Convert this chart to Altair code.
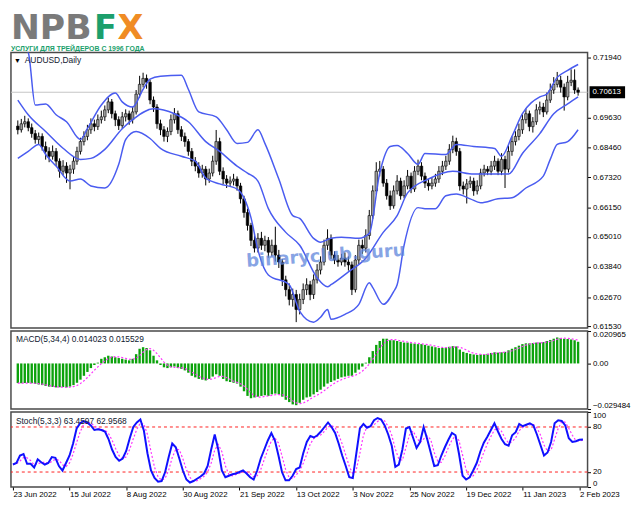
import altair as alt
import pandas as pd

# ---------------- data ----------------
date_labels = ["23 Jun 2022", "15 Jul 2022", "8 Aug 2022", "30 Aug 2022", "21 Sep 2022",
               "13 Oct 2022", "3 Nov 2022", "25 Nov 2022", "19 Dec 2022", "11 Jan 2023", "2 Feb 2023"]

opens = [
    0.6930, 0.6916, 0.6939, 0.6947, 0.6924, 0.6901, 0.6878, 0.6890, 0.6851, 0.6832,
    0.6813, 0.6832, 0.6794, 0.6755, 0.6775, 0.6748, 0.6763, 0.6794, 0.6832, 0.6870,
    0.6890, 0.6916, 0.6939, 0.6928, 0.6955, 0.6966, 0.6993, 0.7024, 0.6978, 0.6955,
    0.6932, 0.6966, 0.6978, 0.6955, 0.6985, 0.7054, 0.7092, 0.7115, 0.7100, 0.7031,
    0.7004, 0.6939, 0.6916, 0.6890, 0.6909, 0.6955, 0.6978, 0.6916, 0.6890, 0.6870,
    0.6832, 0.6794, 0.6775, 0.6748, 0.6763, 0.6725, 0.6748, 0.6794, 0.6870, 0.6755,
    0.6725, 0.6709, 0.6717, 0.6725, 0.6698, 0.6648, 0.6595, 0.6545, 0.6487, 0.6457,
    0.6495, 0.6468, 0.6487, 0.6441, 0.6468, 0.6430, 0.6403, 0.6334, 0.6296, 0.6258,
    0.6277, 0.6219, 0.6258, 0.6296, 0.6315, 0.6277, 0.6334, 0.6372, 0.6403, 0.6468,
    0.6495, 0.6430, 0.6411, 0.6403, 0.6418, 0.6403, 0.6392, 0.6296, 0.6411, 0.6468,
    0.6457, 0.6506, 0.6583, 0.6679, 0.6755, 0.6763, 0.6709, 0.6660, 0.6621, 0.6679,
    0.6717, 0.6660, 0.6698, 0.6736, 0.6686, 0.6755, 0.6775, 0.6736, 0.6709, 0.6698,
    0.6709, 0.6725, 0.6755, 0.6775, 0.6794, 0.6840, 0.6870, 0.6832, 0.6698, 0.6686,
    0.6706, 0.6717, 0.6679, 0.6698, 0.6748, 0.6763, 0.6755, 0.6775, 0.6794, 0.6755,
    0.6801, 0.6763, 0.6832, 0.6870, 0.6890, 0.6916, 0.6955, 0.6978, 0.6928, 0.6947,
    0.6993, 0.7004, 0.6985, 0.7031, 0.7070, 0.7092, 0.7108, 0.7081, 0.7043, 0.7100,
    0.7108, 0.7070]

highs = [
    0.6952, 0.6958, 0.6970, 0.6960, 0.6940, 0.6915, 0.6905, 0.6902, 0.6870, 0.6848,
    0.6855, 0.6845, 0.6805, 0.6798, 0.6790, 0.6780, 0.6810, 0.6850, 0.6885, 0.6910,
    0.6935, 0.6960, 0.6955, 0.6975, 0.6990, 0.7010, 0.7040, 0.7035, 0.6990, 0.6968,
    0.6985, 0.6995, 0.6990, 0.7005, 0.7070, 0.7125, 0.7137, 0.7130, 0.7110, 0.7045,
    0.7015, 0.6955, 0.6930, 0.6925, 0.6975, 0.7000, 0.6990, 0.6930, 0.6905, 0.6880,
    0.6845, 0.6810, 0.6790, 0.6780, 0.6775, 0.6765, 0.6815, 0.6915, 0.6885, 0.6770,
    0.6740, 0.6735, 0.6745, 0.6735, 0.6710, 0.6660, 0.6610, 0.6555, 0.6510, 0.6515,
    0.6520, 0.6505, 0.6500, 0.6490, 0.6540, 0.6450, 0.6415, 0.6350, 0.6320, 0.6300,
    0.6295, 0.6280, 0.6320, 0.6340, 0.6330, 0.6355, 0.6395, 0.6425, 0.6490, 0.6530,
    0.6510, 0.6445, 0.6430, 0.6435, 0.6440, 0.6425, 0.6405, 0.6430, 0.6490, 0.6490,
    0.6530, 0.6605, 0.6700, 0.6790, 0.6795, 0.6775, 0.6725, 0.6680, 0.6700, 0.6740,
    0.6730, 0.6720, 0.6760, 0.6750, 0.6775, 0.6800, 0.6790, 0.6750, 0.6725, 0.6730,
    0.6745, 0.6775, 0.6795, 0.6815, 0.6860, 0.6893, 0.6885, 0.6845, 0.6715, 0.6725,
    0.6735, 0.6730, 0.6720, 0.6765, 0.6780, 0.6775, 0.6795, 0.6815, 0.6805, 0.6825,
    0.6815, 0.6855, 0.6890, 0.6910, 0.6940, 0.6975, 0.6998, 0.6990, 0.6965, 0.7015,
    0.7025, 0.7020, 0.7060, 0.7095, 0.7120, 0.7140, 0.7125, 0.7095, 0.7125, 0.7150,
    0.7150, 0.7080]

lows = [
    0.6898, 0.6905, 0.6925, 0.6910, 0.6885, 0.6862, 0.6860, 0.6835, 0.6800, 0.6790,
    0.6800, 0.6775, 0.6730, 0.6740, 0.6710, 0.6685, 0.6745, 0.6780, 0.6820, 0.6855,
    0.6875, 0.6900, 0.6910, 0.6915, 0.6940, 0.6950, 0.6980, 0.6960, 0.6930, 0.6915,
    0.6920, 0.6948, 0.6935, 0.6940, 0.6975, 0.7040, 0.7080, 0.7075, 0.7015, 0.6985,
    0.6920, 0.6895, 0.6870, 0.6868, 0.6895, 0.6940, 0.6900, 0.6872, 0.6850, 0.6815,
    0.6775, 0.6755, 0.6730, 0.6730, 0.6700, 0.6710, 0.6735, 0.6780, 0.6740, 0.6705,
    0.6690, 0.6695, 0.6700, 0.6680, 0.6630, 0.6575, 0.6525, 0.6465, 0.6440, 0.6440,
    0.6450, 0.6445, 0.6420, 0.6425, 0.6405, 0.6380, 0.6310, 0.6270, 0.6235, 0.6230,
    0.6170, 0.6200, 0.6240, 0.6275, 0.6255, 0.6260, 0.6320, 0.6355, 0.6390, 0.6450,
    0.6415, 0.6395, 0.6385, 0.6390, 0.6385, 0.6370, 0.6275, 0.6285, 0.6395, 0.6435,
    0.6440, 0.6490, 0.6570, 0.6665, 0.6735, 0.6695, 0.6645, 0.6605, 0.6610, 0.6665,
    0.6645, 0.6650, 0.6685, 0.6670, 0.6675, 0.6740, 0.6720, 0.6690, 0.6680, 0.6685,
    0.6695, 0.6710, 0.6740, 0.6760, 0.6780, 0.6825, 0.6815, 0.6680, 0.6665, 0.6630,
    0.6690, 0.6660, 0.6665, 0.6685, 0.6735, 0.6740, 0.6740, 0.6760, 0.6740, 0.6740,
    0.6690, 0.6750, 0.6815, 0.6855, 0.6875, 0.6900, 0.6940, 0.6910, 0.6905, 0.6935,
    0.6975, 0.6965, 0.6975, 0.7020, 0.7055, 0.7080, 0.7060, 0.6990, 0.7030, 0.7085,
    0.7055, 0.7048]

closes = [
    0.6916, 0.6939, 0.6947, 0.6924, 0.6901, 0.6878, 0.6890, 0.6851, 0.6832, 0.6813,
    0.6832, 0.6794, 0.6755, 0.6775, 0.6748, 0.6763, 0.6794, 0.6832, 0.6870, 0.6890,
    0.6916, 0.6939, 0.6928, 0.6955, 0.6966, 0.6993, 0.7024, 0.6978, 0.6955, 0.6932,
    0.6966, 0.6978, 0.6955, 0.6985, 0.7054, 0.7092, 0.7115, 0.7100, 0.7031, 0.7004,
    0.6939, 0.6916, 0.6890, 0.6909, 0.6955, 0.6978, 0.6916, 0.6890, 0.6870, 0.6832,
    0.6794, 0.6775, 0.6748, 0.6763, 0.6725, 0.6748, 0.6794, 0.6870, 0.6755, 0.6725,
    0.6709, 0.6717, 0.6725, 0.6698, 0.6648, 0.6595, 0.6545, 0.6487, 0.6457, 0.6495,
    0.6468, 0.6487, 0.6441, 0.6468, 0.6430, 0.6403, 0.6334, 0.6296, 0.6258, 0.6277,
    0.6219, 0.6258, 0.6296, 0.6315, 0.6277, 0.6334, 0.6372, 0.6403, 0.6468, 0.6495,
    0.6430, 0.6411, 0.6403, 0.6418, 0.6403, 0.6392, 0.6296, 0.6411, 0.6468, 0.6457,
    0.6506, 0.6583, 0.6679, 0.6755, 0.6763, 0.6709, 0.6660, 0.6621, 0.6679, 0.6717,
    0.6660, 0.6698, 0.6736, 0.6686, 0.6755, 0.6775, 0.6736, 0.6709, 0.6698, 0.6709,
    0.6725, 0.6755, 0.6775, 0.6794, 0.6840, 0.6870, 0.6832, 0.6698, 0.6686, 0.6706,
    0.6717, 0.6679, 0.6698, 0.6748, 0.6763, 0.6755, 0.6775, 0.6794, 0.6755, 0.6801,
    0.6763, 0.6832, 0.6870, 0.6890, 0.6916, 0.6955, 0.6978, 0.6928, 0.6947, 0.6993,
    0.7004, 0.6985, 0.7031, 0.7070, 0.7092, 0.7108, 0.7081, 0.7043, 0.7100, 0.7108,
    0.7070, 0.70613]

macd_vals = [
    -0.0127, -0.0128, -0.0127, -0.0126, -0.0128, -0.0132, -0.0136, -0.0140, -0.0146, -0.0150,
    -0.0152, -0.0155, -0.0154, -0.0153, -0.0155, -0.0150, -0.0140, -0.0125, -0.0105, -0.0080,
    -0.0055, -0.0030, -0.0010, 0.0005, 0.0030, 0.0040, 0.0050, 0.0045, 0.0040, 0.0035,
    0.0030, 0.0025, 0.0020, 0.0030, 0.0060, 0.0095, 0.0105, 0.0100, 0.0085, 0.0050,
    0.0020, -0.0010, -0.0025, -0.0030, -0.0025, -0.0020, -0.0030, -0.0035, -0.0045, -0.0060,
    -0.0080, -0.0090, -0.0100, -0.0105, -0.0110, -0.0100, -0.0085, -0.0070, -0.0080, -0.0100,
    -0.0115, -0.0120, -0.0125, -0.0130, -0.0150, -0.0180, -0.0210, -0.0225, -0.0220, -0.0215,
    -0.0210, -0.0205, -0.0210, -0.0200, -0.0195, -0.0200, -0.0215, -0.0235, -0.0250, -0.0265,
    -0.0270, -0.0255, -0.0235, -0.0220, -0.0215, -0.0200, -0.0185, -0.0170, -0.0150, -0.0130,
    -0.0120, -0.0110, -0.0100, -0.0090, -0.0085, -0.0080, -0.0080, -0.0060, -0.0040, -0.0020,
    0.0005, 0.0040, 0.0080, 0.0120, 0.0145, 0.0160, 0.0160, 0.0150, 0.0150, 0.0145,
    0.0140, 0.0135, 0.0135, 0.0130, 0.0128, 0.0125, 0.0125, 0.0120, 0.0115, 0.0110,
    0.0105, 0.0100, 0.0100, 0.0102, 0.0108, 0.0112, 0.0110, 0.0090, 0.0075, 0.0068,
    0.0062, 0.0058, 0.0055, 0.0058, 0.0060, 0.0062, 0.0068, 0.0072, 0.0070, 0.0072,
    0.0075, 0.0085, 0.0095, 0.0105, 0.0115, 0.0125, 0.0130, 0.0130, 0.0132, 0.0135,
    0.0135, 0.0138, 0.0145, 0.0152, 0.0160, 0.0168, 0.0165, 0.0160, 0.0158, 0.0155,
    0.0150, 0.014023]

stoch_k = [
    30, 32, 42, 44, 31, 31, 26, 37, 33, 30,
    32, 40, 39, 28, 22, 32, 42, 58, 78, 85,
    88, 86, 82, 76, 77, 76, 74, 64, 50, 40,
    35, 38, 48, 65, 80, 86, 90, 75, 45, 22,
    12, 7, 8, 20, 40, 58, 53, 38, 22, 10,
    6, 8, 11, 14, 18, 28, 50, 70, 50, 22,
    13, 15, 17, 18, 20, 22, 18, 13, 10, 22,
    38, 50, 62, 72, 62, 42, 20, 9, 9, 15,
    24, 26, 45, 60, 68, 66, 69, 74, 80, 86,
    80, 72, 58, 42, 28, 13, 12, 45, 78, 84,
    79, 81, 89, 92, 90, 82, 70, 55, 27, 30,
    50, 78, 80, 66, 52, 60, 80, 64, 46, 28,
    29, 42, 53, 63, 72, 69, 44, 15, 10, 13,
    22, 32, 47, 59, 67, 76, 85, 74, 64, 57,
    55, 69, 73, 84, 81, 83, 85, 82, 70, 56,
    42, 46, 60, 85, 89, 88, 82, 65, 60, 61,
    63, 63.4597]

upper_idx = [0, 3, 5, 8, 11, 14, 18, 20, 24, 28, 30, 33, 36, 38, 41, 47, 49, 52, 57, 60,
             63, 66, 69, 71, 75, 79, 81, 85, 87, 90, 93, 98, 101, 104, 107, 109, 112, 115,
             117, 123, 126, 131, 137, 139, 142, 145, 150, 152, 155, 158, 161]
upper_val = [0.7253, 0.7215, 0.7012, 0.7016, 0.6974, 0.6947, 0.6878, 0.6920, 0.7012, 0.7058,
             0.7024, 0.7004, 0.7073, 0.7112, 0.7123, 0.7127, 0.7073, 0.6985, 0.6966, 0.6916,
             0.6863, 0.6867, 0.6916, 0.6863, 0.6725, 0.6583, 0.6572, 0.6495, 0.6480, 0.6495,
             0.6499, 0.6495, 0.6514, 0.6748, 0.6851, 0.6855, 0.6824, 0.6782, 0.6824, 0.6820,
             0.6859, 0.6851, 0.6843, 0.6813, 0.6890, 0.6978, 0.7043, 0.7054, 0.7119, 0.7146,
             0.7169]

middle_idx = [0, 3, 8, 13, 18, 21, 25, 30, 33, 39, 45, 49, 54, 58, 63, 66, 69, 72, 77, 81,
              86, 89, 90, 95, 100, 105, 109, 112, 118, 125, 131, 136, 141, 145, 150, 154,
              158, 161]
middle_val = [0.7031, 0.6974, 0.6909, 0.6844, 0.6801, 0.6805, 0.6840, 0.6920, 0.6955, 0.6997,
              0.6978, 0.6947, 0.6870, 0.6832, 0.6775, 0.6748, 0.6717, 0.6610, 0.6518, 0.6468,
              0.6342, 0.6307, 0.6315, 0.6365, 0.6418, 0.6518, 0.6583, 0.6671, 0.6725, 0.6755,
              0.6744, 0.6744, 0.6744, 0.6824, 0.6901, 0.6978, 0.7016, 0.7043]

lower_idx = [0, 3, 6, 8, 11, 15, 18, 21, 25, 29, 31, 34, 38, 41, 47, 51, 54, 58, 63, 65,
             67, 69, 72, 78, 81, 85, 87, 89, 90, 94, 98, 101, 102, 105, 108, 109, 111, 115,
             117, 120, 123, 126, 130, 133, 138, 142, 146, 151, 153, 155, 158, 161]
lower_val = [0.6805, 0.6832, 0.6859, 0.6820, 0.6775, 0.6717, 0.6725, 0.6698, 0.6690, 0.6782,
             0.6878, 0.6909, 0.6882, 0.6844, 0.6813, 0.6794, 0.6729, 0.6706, 0.6686, 0.6652,
             0.6575, 0.6450, 0.6353, 0.6315, 0.6212, 0.6170, 0.6189, 0.6219, 0.6181, 0.6200,
             0.6239, 0.6323, 0.6304, 0.6239, 0.6288, 0.6315, 0.6468, 0.6614, 0.6610, 0.6610,
             0.6660, 0.6667, 0.6648, 0.6633, 0.6648, 0.6652, 0.6690, 0.6736, 0.6801, 0.6859,
             0.6870, 0.6916]

price_ticks = [0.7194, 0.6963, 0.6846, 0.6732, 0.6615, 0.6501, 0.6384, 0.6267, 0.6153]
last_price = 0.70613
macd_ticks = [0.020965, 0.0, -0.029484]
stoch_ticks = [100, 80, 20, 0]
stoch_levels = [20, 80]

# ---------------- tables ----------------
n = len(closes)
assert len(opens) == n and len(highs) == n and len(lows) == n
assert len(macd_vals) == n and len(stoch_k) == n
df = pd.DataFrame({"i": list(range(n)), "open": opens, "high": highs, "low": lows,
                   "close": closes, "macd": macd_vals, "k": stoch_k})
bands = pd.concat([
    pd.DataFrame({"i": upper_idx, "p": upper_val, "band": "upper"}),
    pd.DataFrame({"i": middle_idx, "p": middle_val, "band": "middle"}),
    pd.DataFrame({"i": lower_idx, "p": lower_val, "band": "lower"}),
])
one = pd.DataFrame({"a": [0]})

W = 584
FONT = "Liberation Sans"
xsc = alt.Scale(domain=[-0.55, 162.3], nice=False, zero=False)
X = alt.X("i:Q", scale=xsc, axis=None)

# ---------------- logo ----------------
logo = alt.layer(
    alt.Chart(one).mark_text(align="left", baseline="top", fontSize=35, fontWeight="bold",
                             font="DejaVu Sans", color="#7a7a7a").encode(
        x=alt.value(0), y=alt.value(0), text=alt.value("NPB")),
    alt.Chart(one).mark_text(align="left", baseline="top", fontSize=34, fontWeight="bold",
                             font="DejaVu Sans", color="#1b9f6c").encode(
        x=alt.value(84), y=alt.value(1), text=alt.value("F")),
    alt.Chart(one).mark_text(align="left", baseline="top", fontSize=34, fontWeight="bold",
                             font="DejaVu Sans", color="#f08c24").encode(
        x=alt.value(108), y=alt.value(1), text=alt.value("X")),
    alt.Chart(one).mark_text(align="left", baseline="middle", fontSize=7, fontWeight="bold",
                             font=FONT, color="#1b9f6c").encode(
        x=alt.value(0), y=alt.value(38), text=alt.value("УСЛУГИ ДЛЯ ТРЕЙДЕРОВ С 1996 ГОДА")),
).properties(width=W, height=39, view=alt.ViewBackground(strokeWidth=0))

# ---------------- price panel ----------------
ysc = alt.Scale(domain=[0.6147, 0.7215], nice=False, zero=False)
yaxis = alt.Axis(orient="right", values=price_ticks, format=".5f", tickSize=3, domain=False,
                 grid=False, labelPadding=2, labelOverlap=False, title=None)
base = alt.Chart(df)

curline = alt.Chart(pd.DataFrame({"p": [last_price]})).mark_rule(color="#c4c4c4", strokeWidth=1).encode(
    y=alt.Y("p:Q", scale=ysc, axis=yaxis))
wick = base.mark_rule(color="black", strokeWidth=1).encode(
    x=X, y=alt.Y("low:Q", scale=ysc, axis=yaxis), y2="high:Q")
body = base.mark_bar(width=2.6, stroke="black", strokeWidth=0.6).encode(
    x=X, y=alt.Y("open:Q", scale=ysc, axis=yaxis), y2="close:Q",
    fill=alt.condition(alt.datum.close >= alt.datum.open, alt.value("#9c9c9c"), alt.value("black")))
bandlines = alt.Chart(bands).mark_line(color="#4a5cf0", strokeWidth=1.5, clip=True,
                                        interpolate="monotone").encode(
    x=X, y=alt.Y("p:Q", scale=ysc, axis=yaxis), detail="band:N")
wm = alt.Chart(pd.DataFrame({"i": [88.5], "p": [0.6425], "t": ["binaryclub.guru"]})).mark_text(
    fontSize=18, fontWeight="bold", font="DejaVu Sans", color="#5f86dc", opacity=0.75, angle=356).encode(
    x=X, y=alt.Y("p:Q", scale=ysc, axis=yaxis), text="t:N")
tag_df = pd.DataFrame({"p": [last_price], "t": ["0.70613"]})
tag = alt.Chart(tag_df).mark_rect(color="black", yOffset=-6, y2Offset=6).encode(
    x=alt.value(W + 2), x2=alt.value(W + 38), y=alt.Y("p:Q", scale=ysc, axis=yaxis), y2="p:Q")
tagtext = alt.Chart(tag_df).mark_text(align="left", baseline="middle", fontSize=8, color="white",
                                      font=FONT).encode(
    x=alt.value(W + 5), y=alt.Y("p:Q", scale=ysc, axis=yaxis), text="t:N")
arrow = alt.Chart(one).mark_text(align="left", baseline="middle", fontSize=7, color="black").encode(
    x=alt.value(3), y=alt.value(9), text=alt.value("▼"))
sym = alt.Chart(one).mark_text(align="left", baseline="middle", fontSize=8.5, color="#102030",
                               font=FONT).encode(
    x=alt.value(14), y=alt.value(8), text=alt.value("AUDUSD,Daily"))

main = alt.layer(curline, wick, body, bandlines, wm, tag, tagtext, arrow, sym).properties(
    width=W, height=279)

# ---------------- MACD panel ----------------
msc = alt.Scale(domain=[-0.029484, 0.020965], nice=False, zero=False)
maxis = alt.Axis(orient="right", values=macd_ticks, tickSize=3, domain=False, grid=False,
                 labelFlush=True, labelPadding=2, labelOverlap=False, title=None,
                 labelExpr="datum.value == 0 ? '0.00' : format(datum.value, '.6f')")
mbars = base.mark_bar(width=2.4, color="#0ba20b").encode(
    x=X, y=alt.Y("macd:Q", scale=msc, axis=maxis), y2=alt.datum(0))
msig = base.transform_window(sig="mean(macd)", frame=[-3, 0], sort=[alt.SortField("i")]).mark_line(
    color="#ff30ff", strokeDash=[2, 2], strokeWidth=1.2).encode(
    x=X, y=alt.Y("sig:Q", scale=msc, axis=maxis))
mtxt = alt.Chart(one).mark_text(align="left", baseline="middle", fontSize=8.5, color="#102030",
                                font=FONT).encode(
    x=alt.value(5), y=alt.value(8), text=alt.value("MACD(5,34,4) 0.014023 0.015529"))
macd = alt.layer(mbars, msig, mtxt).properties(width=W, height=79)

# ---------------- Stochastic panel ----------------
ssc = alt.Scale(domain=[0, 100], nice=False, zero=False)
saxis = alt.Axis(orient="right", values=stoch_ticks, tickSize=3, domain=False, grid=False,
                 labelFlush=True, labelPadding=2, labelOverlap=False, title=None,
                 labelExpr="format(datum.value, 'd')")
xaxis = alt.Axis(values=list(range(0, 161, 16)), labelAlign="left", labelFlush=False, tickSize=3,
                 domain=False, grid=False, labelPadding=1, labelOverlap=False, title=None,
                 labelExpr="%s[round(datum.value / 16)]" % str(date_labels))
levels = alt.Chart(pd.DataFrame({"lv": stoch_levels})).mark_rule(
    color="#ff2020", strokeDash=[3, 3], strokeWidth=1).encode(
    y=alt.Y("lv:Q", scale=ssc, axis=saxis))
sd = base.transform_window(d="mean(k)", frame=[-2, 0], sort=[alt.SortField("i")]).mark_line(
    color="#ff30ff", strokeDash=[2, 2], strokeWidth=1.2).encode(
    x=alt.X("i:Q", scale=xsc, axis=xaxis), y=alt.Y("d:Q", scale=ssc, axis=saxis))
sk = base.mark_line(color="#1010ff", strokeWidth=2).encode(
    x=alt.X("i:Q", scale=xsc, axis=xaxis), y=alt.Y("k:Q", scale=ssc, axis=saxis))
stxt = alt.Chart(one).mark_text(align="left", baseline="middle", fontSize=8.5, color="#102030",
                                font=FONT).encode(
    x=alt.value(5), y=alt.value(9), text=alt.value("Stoch(5,3,3) 63.4597 62.9568"))
stoch = alt.layer(levels, sd, sk, stxt).properties(width=W, height=76)

chart = alt.vconcat(logo, main, macd, stoch, spacing=3, bounds="flush").properties(padding=0).configure(
    font=FONT).configure_axis(
    labelFont=FONT, labelFontSize=8, labelColor="black", tickColor="black", tickWidth=1,
    labelOverlap=False
).configure_view(stroke="#4a4a4a", strokeWidth=1.5)

chart.save("out.html", embed_options={"renderer": "svg", "actions": False})
